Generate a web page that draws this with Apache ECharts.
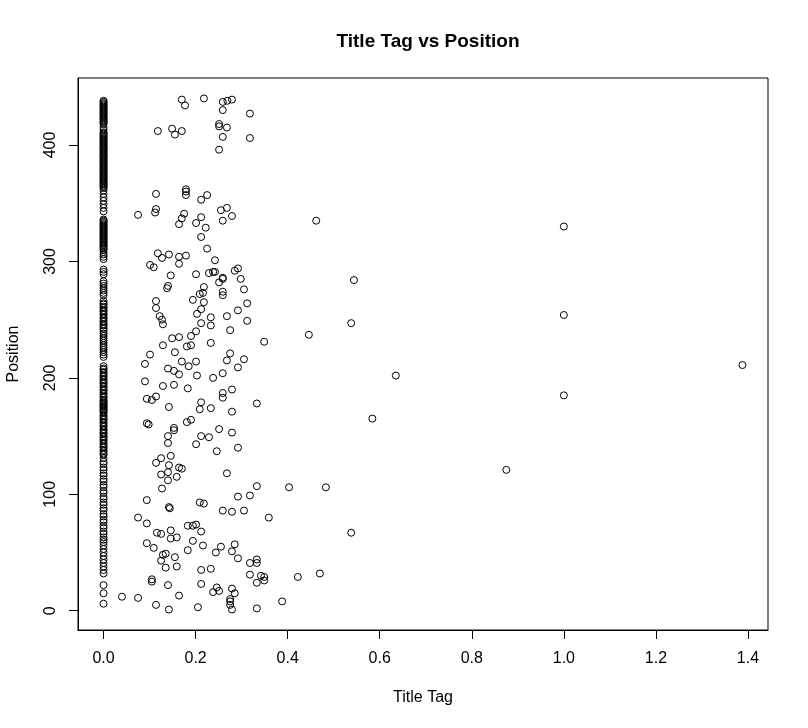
<!DOCTYPE html>
<html>
<head>
<meta charset="utf-8">
<script src="https://cdn.jsdelivr.net/npm/echarts@6/dist/echarts.min.js"></script>
<style>
  html, body { margin: 0; padding: 0; background: #fff; }
  #chart { width: 808px; height: 728px; }
</style>
</head>
<body>
<div id="chart"></div>
<script>
// tick labels
var xTicks = [0, 0.2, 0.4, 0.6, 0.8, 1.0, 1.2, 1.4];
var yTicks = [0, 100, 200, 300, 400];

// positions of the pages whose title tag score is 0
var zeroTagPositions = [
  438, 437, 436, 435, 434, 433, 432, 431, 430, 429, 428, 427, 426, 425, 424, 423, 422, 421, 420, 419, 418,
  415, 413,
  411, 410, 409, 408, 407, 406, 405, 404, 403, 402, 401, 400, 399, 398, 397, 396, 395, 394, 393, 392,
  391, 390, 389, 388, 387, 386, 385, 384, 383, 382, 381, 380, 379, 378, 377, 376, 375, 374, 373, 372,
  371, 370, 369, 368, 367, 366, 365, 364, 363,
  361, 358, 355, 352, 349, 346, 343,
  336, 335, 334, 333, 332, 331, 330, 329, 328, 327, 326, 325, 324, 323, 322, 321, 320, 319, 318, 317,
  316, 315, 314, 313, 312, 311, 310,
  308, 306, 304, 302, 293, 291, 289, 283, 281, 279, 277, 275, 273, 271,
  266, 264, 263, 261, 260, 258, 257, 255, 254, 252, 251, 249, 248, 246, 245, 243, 242,
  240, 238, 236, 234, 232, 230, 228, 226, 224, 222, 220, 218,
  210, 208, 207, 205, 204, 202, 201, 199, 198, 196, 195, 193, 192, 190, 189, 187, 186, 184, 183, 181,
  180, 179, 178, 177, 176, 175, 174, 173, 172, 171, 170, 168, 167, 165, 164, 162, 161, 159, 158, 156,
  155, 153, 152, 150, 149, 147, 146, 144, 143, 141, 140, 138, 137, 135, 134,
  131, 128, 126, 123, 121, 118, 116, 113, 111, 108, 106, 103, 101, 98, 96, 93, 91, 88, 86, 83, 81,
  78, 76, 73, 71, 68, 66, 63, 61, 59,
  56, 53, 50, 47, 44, 41, 38, 35, 32, 22, 15, 6
];

// [title tag, position], upper band
var pointsUpper = [
  [0.170, 439], [0.177, 434], [0.218, 440], [0.259, 437], [0.269, 438], [0.279, 439], [0.259, 430],
  [0.318, 427], [0.251, 418], [0.251, 416], [0.268, 415], [0.118, 412], [0.149, 414], [0.155, 409],
  [0.170, 412], [0.259, 407], [0.318, 406], [0.251, 396],
  [0.114, 358], [0.179, 362], [0.179, 360], [0.179, 357], [0.225, 357], [0.212, 353], [0.114, 345],
  [0.112, 342], [0.075, 340], [0.175, 341], [0.170, 337], [0.164, 332], [0.212, 338], [0.201, 333],
  [0.222, 329], [0.212, 321], [0.255, 344], [0.268, 346], [0.259, 335], [0.279, 339], [0.462, 335],
  [0.225, 311], [0.118, 307], [0.127, 303], [0.142, 306], [0.164, 304], [0.179, 305], [0.164, 298],
  [0.242, 301], [0.101, 297]
];

// middle band
var pointsMiddle = [
  [0.109, 295], [0.146, 288], [0.201, 289], [0.229, 290], [0.238, 291], [0.242, 291], [0.259, 286],
  [0.259, 285], [0.285, 292], [0.292, 294], [0.298, 285], [0.251, 282], [0.544, 284], [0.140, 279],
  [0.138, 277], [0.218, 278], [0.216, 273], [0.209, 272], [0.259, 274], [0.259, 271], [0.305, 276],
  [0.114, 266], [0.114, 260], [0.194, 267], [0.218, 265], [0.212, 259], [0.203, 255], [0.312, 264],
  [0.292, 258], [0.268, 253], [0.312, 249], [0.122, 253], [0.127, 250], [0.129, 246], [0.212, 247],
  [0.233, 252], [0.233, 245], [0.275, 241], [0.538, 247], [0.446, 237], [0.349, 231], [0.149, 234],
  [0.164, 235], [0.190, 236], [0.201, 240], [0.129, 228], [0.181, 227], [0.190, 228], [0.233, 230],
  [0.155, 222], [0.101, 220], [0.090, 212], [0.170, 214], [0.185, 210], [0.201, 214], [0.140, 208],
  [0.153, 206], [0.164, 203], [0.203, 202], [0.238, 200], [0.259, 204], [0.275, 221], [0.268, 215],
  [0.292, 209], [0.305, 216], [0.090, 197], [0.129, 193], [0.153, 194], [0.183, 191], [0.259, 187],
  [0.259, 183], [0.279, 190], [0.114, 184], [0.094, 182], [0.105, 181], [0.142, 175], [0.212, 179],
  [0.209, 173], [0.233, 174], [0.279, 171], [0.333, 178], [0.094, 161], [0.098, 160], [0.181, 162],
  [0.190, 164], [0.153, 157], [0.153, 155], [0.140, 150], [0.212, 150], [0.229, 149], [0.251, 156],
  [0.279, 153]
];

// lower band
var pointsLower = [
  [0.140, 144], [0.201, 143], [0.292, 140], [0.246, 137], [0.146, 133], [0.125, 131], [0.114, 127],
  [0.142, 125], [0.164, 123], [0.170, 122], [0.140, 119], [0.125, 117], [0.159, 115], [0.268, 118],
  [0.140, 112], [0.127, 105], [0.333, 107], [0.403, 106], [0.483, 106], [0.292, 98], [0.318, 99],
  [0.094, 95], [0.209, 93], [0.218, 92], [0.142, 89], [0.144, 88], [0.259, 86], [0.279, 85],
  [0.305, 86], [0.359, 80], [0.538, 67], [0.075, 80], [0.094, 75], [0.116, 67], [0.125, 66],
  [0.146, 69], [0.146, 62], [0.159, 63], [0.183, 73], [0.194, 73], [0.201, 74], [0.212, 68],
  [0.194, 60], [0.216, 56], [0.183, 52], [0.094, 58], [0.109, 54], [0.135, 49], [0.129, 48],
  [0.125, 43], [0.155, 46], [0.135, 37], [0.159, 38], [0.212, 35], [0.233, 36], [0.244, 50],
  [0.255, 55], [0.279, 51], [0.285, 57], [0.292, 45], [0.318, 41], [0.333, 44], [0.333, 41],
  [0.318, 31], [0.333, 24], [0.342, 30], [0.349, 29], [0.349, 26], [0.422, 29], [0.470, 32],
  [0.105, 27], [0.105, 25], [0.140, 22], [0.212, 23], [0.246, 20], [0.238, 16], [0.251, 17],
  [0.279, 19], [0.285, 15], [0.275, 10], [0.275, 8], [0.275, 5], [0.279, 1], [0.333, 2],
  [0.388, 8], [0.205, 3], [0.114, 5], [0.142, 1], [0.164, 13], [0.040, 12], [0.075, 11]
];

// far right points
var outliers = [
  [1.0, 330], [1.0, 254], [1.388, 211], [0.635, 202], [1.0, 185], [0.584, 165], [0.875, 121]
];

var allPoints = zeroTagPositions.map(function (p) { return [0, p]; })
  .concat(pointsUpper, pointsMiddle, pointsLower, outliers);

// R style 4% padding of the data range
var xs = allPoints.map(function (d) { return d[0]; });
var ys = allPoints.map(function (d) { return d[1]; });
var xMin = Math.min.apply(null, xs), xMax = Math.max.apply(null, xs);
var yMin = Math.min.apply(null, ys), yMax = Math.max.apply(null, ys);
var xPad = (xMax - xMin) * 0.04, yPad = (yMax - yMin) * 0.04;

var font = 'Liberation Sans, Arial, sans-serif';
var chart = echarts.init(document.getElementById('chart'));

var option = {
  animation: false,
  backgroundColor: '#fff',
  title: {
    text: 'Title Tag vs Position',
    left: 423, top: 27, textAlign: 'center',
    textStyle: { fontFamily: font, fontSize: 19, fontWeight: 'bold', color: '#000' }
  },
  grid: {
    left: 78, right: 40, top: 78, bottom: 98,
    outerBoundsMode: 'none', containLabel: false,
    show: true, borderColor: '#000', borderWidth: 1
  },
  xAxis: {
    type: 'value',
    min: xMin - xPad, max: xMax + xPad,
    name: 'Title Tag', nameLocation: 'middle', nameGap: 60,
    nameTextStyle: { fontFamily: font, fontSize: 16, color: '#000' },
    axisLine: { show: true, onZero: false, lineStyle: { color: '#000', width: 1 } },
    axisTick: { show: true, length: 9, customValues: xTicks, lineStyle: { color: '#000' } },
    axisLabel: {
      customValues: xTicks, margin: 21,
      fontFamily: font, fontSize: 16, color: '#000',
      formatter: function (v) { return v.toFixed(1); }
    },
    splitLine: { show: false }
  },
  yAxis: {
    type: 'value',
    min: yMin - yPad, max: yMax + yPad,
    name: 'Position', nameLocation: 'middle', nameGap: 56, nameRotate: 90,
    nameTextStyle: { fontFamily: font, fontSize: 16, color: '#000' },
    axisLine: { show: true, onZero: false, lineStyle: { color: '#000', width: 1 } },
    axisTick: { show: true, length: 9, customValues: yTicks, lineStyle: { color: '#000' } },
    axisLabel: {
      customValues: yTicks, margin: 19, rotate: 90,
      fontFamily: font, fontSize: 16, color: '#000'
    },
    splitLine: { show: false }
  },
  series: [{
    type: 'scatter',
    data: allPoints,
    symbol: 'circle',
    symbolSize: 7,
    itemStyle: { color: 'rgba(0,0,0,0)', borderColor: '#000', borderWidth: 1, opacity: 1 },
    emphasis: { disabled: true }
  }]
};
chart.setOption(option);
</script>
</body>
</html>
